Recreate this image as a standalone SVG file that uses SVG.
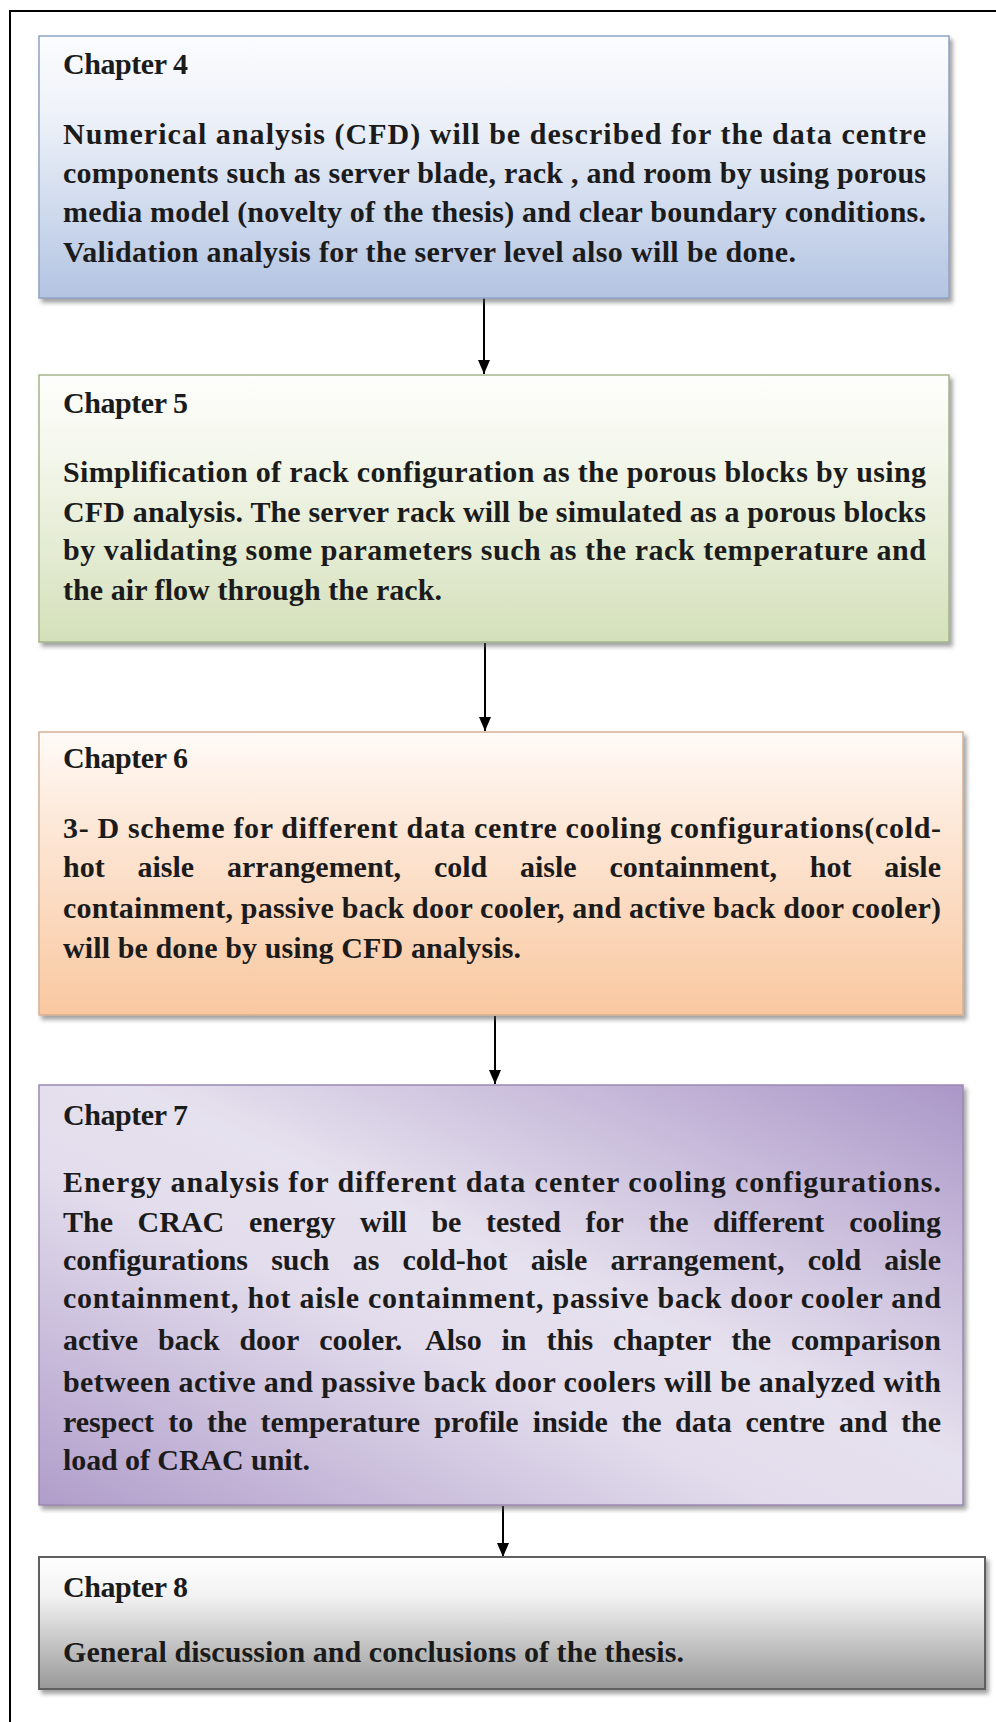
<svg xmlns="http://www.w3.org/2000/svg" width="996" height="1722" viewBox="0 0 996 1722">
<style>
.t{font-family:"Liberation Serif","Times New Roman",serif;font-weight:bold;font-size:30px;fill:#1b1b1b}
.conn line{stroke:#000;stroke-width:2}
</style>
<defs>
<filter id="sh" x="-5%" y="-5%" width="110%" height="115%">
<feDropShadow dx="3" dy="4" stdDeviation="2" flood-color="#555" flood-opacity="0.55"/>
</filter>
<linearGradient id="g1" x1="0" y1="0" x2="0" y2="1">
<stop offset="0" stop-color="#fbfcfe"/><stop offset="0.3" stop-color="#eef2f9"/><stop offset="1" stop-color="#b3c4e2"/>
</linearGradient>
<linearGradient id="g2" x1="0" y1="0" x2="0" y2="1">
<stop offset="0" stop-color="#fefefc"/><stop offset="0.3" stop-color="#f4f7ec"/><stop offset="1" stop-color="#d4e0ba"/>
</linearGradient>
<linearGradient id="g3" x1="0" y1="0" x2="0" y2="1">
<stop offset="0" stop-color="#fffbf8"/><stop offset="0.3" stop-color="#fde9da"/><stop offset="1" stop-color="#f9c8a0"/>
</linearGradient>
<linearGradient id="g4" x1="1" y1="0" x2="0" y2="1">
<stop offset="0" stop-color="#ab97c8"/><stop offset="0.45" stop-color="#e6e1ee"/><stop offset="0.6" stop-color="#e2dcec"/><stop offset="1" stop-color="#b09dca"/>
</linearGradient>
<linearGradient id="g5" x1="0" y1="0" x2="0" y2="1">
<stop offset="0" stop-color="#ffffff"/><stop offset="0.3" stop-color="#f2f2f2"/><stop offset="1" stop-color="#989898"/>
</linearGradient>
<marker id="ah" viewBox="0 0 14 12" refX="14" refY="6" markerWidth="14" markerHeight="12" markerUnits="userSpaceOnUse" orient="auto">
<path d="M0,0 L14,6 L0,12 Z" fill="#000"/>
</marker>
</defs>
<rect width="996" height="1722" fill="#fff"/>
<path d="M10,1722 V11 H996" fill="none" stroke="#000" stroke-width="2"/>

<g class="conn" id="connectors">
<line x1="484" y1="298" x2="484" y2="374" marker-end="url(#ah)"/>
<line x1="485" y1="643" x2="485" y2="731" marker-end="url(#ah)"/>
<line x1="495" y1="1016" x2="495" y2="1084" marker-end="url(#ah)"/>
<line x1="503" y1="1506" x2="503" y2="1557" marker-end="url(#ah)"/>
</g>

<g id="ch4">
<rect x="39" y="36" width="910" height="262" fill="url(#g1)" stroke="#8fa3c5" stroke-width="1.5" filter="url(#sh)"/>
<text class="t" x="63" y="74" textLength="125">Chapter 4</text>
<text class="t" x="63" y="144" textLength="863">Numerical analysis (CFD) will be described for the data centre</text>
<text class="t" x="63" y="183" textLength="863">components such as server blade, rack , and room by using porous</text>
<text class="t" x="63" y="222" textLength="863">media model (novelty of the thesis) and clear boundary conditions.</text>
<text class="t" x="63" y="262" textLength="733">Validation analysis for the server level also will be done.</text>
</g>

<g id="ch5">
<rect x="39" y="375" width="910" height="267" fill="url(#g2)" stroke="#a6b58a" stroke-width="1.5" filter="url(#sh)"/>
<text class="t" x="63" y="413" textLength="125">Chapter 5</text>
<text class="t" x="63" y="482" textLength="863">Simplification of rack configuration as the porous blocks by using</text>
<text class="t" x="63" y="522" textLength="863">CFD analysis. The server rack will be simulated as a porous blocks</text>
<text class="t" x="63" y="560" textLength="863">by validating some parameters such as the rack temperature and</text>
<text class="t" x="63" y="600" textLength="379">the air flow through the rack.</text>
</g>

<g id="ch6">
<rect x="39" y="732" width="924" height="283" fill="url(#g3)" stroke="#d6b193" stroke-width="1.5" filter="url(#sh)"/>
<text class="t" x="63" y="768" textLength="125">Chapter 6</text>
<text class="t" x="63" y="838" textLength="878">3- D scheme for different data centre cooling configurations(cold-</text>
<text class="t" y="877"><tspan x="63">hot</tspan><tspan x="137.5">aisle</tspan><tspan x="227">arrangement,</tspan><tspan x="433.9">cold</tspan><tspan x="520">aisle</tspan><tspan x="609.5">containment,</tspan><tspan x="809.8">hot</tspan><tspan x="884.3">aisle</tspan></text>
<text class="t" x="63" y="918" textLength="878">containment, passive back door cooler, and active back door cooler)</text>
<text class="t" x="63" y="958" textLength="458">will be done by using CFD analysis.</text>
</g>

<g id="ch7">
<rect x="39" y="1085" width="924" height="420" fill="url(#g4)" stroke="#9b89b4" stroke-width="1.5" filter="url(#sh)"/>
<text class="t" x="63" y="1125" textLength="125">Chapter 7</text>
<text class="t" x="63" y="1192" textLength="878">Energy analysis for different data center cooling configurations.</text>
<text class="t" y="1232"><tspan x="63">The</tspan><tspan x="137.6">CRAC</tspan><tspan x="248.9">energy</tspan><tspan x="360.1">will</tspan><tspan x="431.4">be</tspan><tspan x="486">tested</tspan><tspan x="585.6">for</tspan><tspan x="648.5">the</tspan><tspan x="713.1">different</tspan><tspan x="849.3">cooling</tspan></text>
<text class="t" y="1270"><tspan x="63">configurations</tspan><tspan x="271.2">such</tspan><tspan x="352.7">as</tspan><tspan x="402.5">cold-hot</tspan><tspan x="530.7">aisle</tspan><tspan x="610.5">arrangement,</tspan><tspan x="807.8">cold</tspan><tspan x="884.3">aisle</tspan></text>
<text class="t" x="63" y="1308" textLength="878">containment, hot aisle containment, passive back door cooler and</text>
<text class="t" y="1350"><tspan x="63">active</tspan><tspan x="157.9">back</tspan><tspan x="239.4">door</tspan><tspan x="319.3">cooler.</tspan><tspan x="425">Also</tspan><tspan x="501.5">in</tspan><tspan x="546.4">this</tspan><tspan x="613">chapter</tspan><tspan x="731.2">the</tspan><tspan x="791">comparison</tspan></text>
<text class="t" x="63" y="1392" textLength="878">between active and passive back door coolers will be analyzed with</text>
<text class="t" y="1432"><tspan x="63">respect</tspan><tspan x="168.3">to</tspan><tspan x="206.9">the</tspan><tspan x="260.6">temperature</tspan><tspan x="434.2">profile</tspan><tspan x="532.8">inside</tspan><tspan x="621.5">the</tspan><tspan x="675.1">data</tspan><tspan x="745.4">centre</tspan><tspan x="839">and</tspan><tspan x="901">the</tspan></text>
<text class="t" x="63" y="1470" textLength="247">load of CRAC unit.</text>
</g>

<g id="ch8">
<rect x="39" y="1557" width="946" height="132" fill="url(#g5)" stroke="#5e5e5e" stroke-width="2" filter="url(#sh)"/>
<text class="t" x="63" y="1597" textLength="125">Chapter 8</text>
<text class="t" x="63" y="1662" textLength="621">General discussion and conclusions of the thesis.</text>
</g>
</svg>
